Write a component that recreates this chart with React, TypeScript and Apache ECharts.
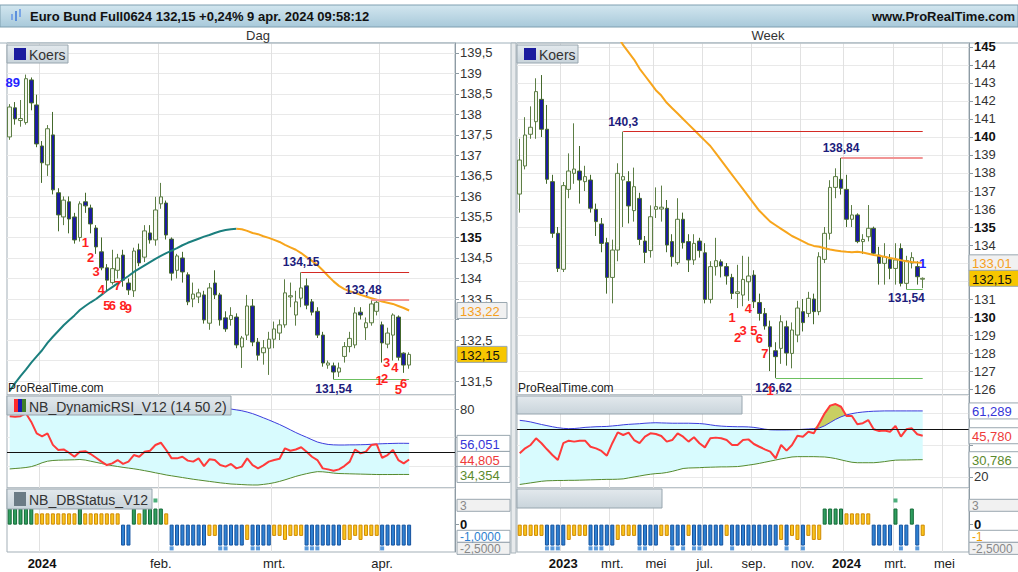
import React, { useEffect, useRef } from 'react';
import * as echarts from 'echarts';

const FONT = '"Liberation Sans", Arial, Helvetica, sans-serif';
const MONTHS = ['jan.', 'feb.', 'mrt.', 'apr.', 'mei', 'jun.', 'jul.', 'aug.', 'sep.', 'okt.', 'nov.', 'dec.'];
const DAY_SLOTS = 83;
const WEEK_SLOTS = 83;
const DAY_START = '2023-12-20';
const WEEK_START = '2022-11-07';
const DAY_HOLIDAYS = ['2023-12-25', '2023-12-26', '2024-01-01', '2024-03-29', '2024-04-01'];

// ---------- daily (Dag) ----------
// [open, close, low, high]
const dayCandles = [
  [137.45, 138.18, 137.38, 138.25], [138.16, 137.89, 137.75, 138.30], [137.85, 137.90, 137.70, 138.35],
  [137.80, 138.87, 137.75, 138.97], [138.84, 138.28, 138.10, 138.90], [138.23, 137.28, 137.20, 138.48],
  [137.23, 136.82, 136.33, 137.35], [136.77, 137.65, 136.50, 137.74], [137.50, 136.16, 136.05, 138.06],
  [136.09, 135.55, 135.15, 136.20], [135.50, 135.91, 135.30, 136.00], [135.87, 135.45, 135.10, 136.00],
  [135.50, 134.94, 134.85, 135.60], [135.00, 135.82, 134.90, 135.88], [135.87, 135.77, 135.60, 136.09],
  [135.72, 135.33, 135.10, 135.80], [135.23, 134.77, 134.60, 135.30], [134.65, 134.26, 134.20, 135.00],
  [134.26, 133.96, 133.70, 134.35], [133.90, 134.24, 133.85, 134.70], [134.20, 134.50, 134.00, 134.60],
  [134.57, 133.96, 133.80, 134.70], [133.89, 133.72, 133.60, 134.00], [133.70, 134.67, 133.55, 134.75],
  [134.70, 134.38, 134.30, 134.85], [134.52, 135.16, 134.40, 135.30], [135.11, 134.94, 134.85, 135.30],
  [134.94, 135.67, 134.80, 135.99], [135.82, 135.99, 135.70, 136.33], [135.84, 135.06, 134.95, 135.90],
  [134.96, 134.13, 133.95, 135.00], [134.20, 134.55, 134.00, 134.60], [134.50, 134.16, 133.90, 134.65],
  [134.09, 133.43, 133.35, 134.15], [133.50, 133.62, 133.30, 133.90], [133.55, 133.65, 133.40, 133.75],
  [133.60, 132.99, 132.90, 133.70], [132.91, 133.77, 132.75, 133.89], [133.89, 133.60, 133.50, 134.20],
  [133.60, 132.99, 132.85, 133.65], [133.04, 132.77, 132.70, 133.20], [133.00, 133.10, 132.85, 133.30],
  [133.06, 132.38, 132.30, 133.15], [132.33, 132.55, 131.82, 132.60], [132.62, 133.33, 132.50, 133.60],
  [133.33, 132.45, 132.35, 133.50], [132.45, 132.13, 132.00, 132.55], [132.19, 132.31, 131.90, 132.50],
  [132.30, 132.52, 131.65, 132.70], [132.52, 132.77, 132.30, 132.95], [132.67, 132.87, 132.50, 133.00],
  [132.87, 133.65, 132.80, 133.98], [133.55, 133.58, 133.30, 133.90], [133.11, 133.43, 132.85, 133.70],
  [133.52, 133.77, 133.30, 134.15], [133.82, 133.35, 133.25, 134.00], [133.43, 133.18, 133.10, 133.50],
  [133.20, 132.62, 132.55, 133.30], [132.62, 131.94, 131.85, 132.70], [131.89, 131.94, 131.80, 132.00],
  [131.87, 131.72, 131.54, 131.95], [131.72, 131.82, 131.60, 131.95], [132.10, 132.34, 131.95, 132.45],
  [132.34, 132.54, 132.20, 132.70], [132.38, 133.16, 132.30, 133.30], [133.18, 133.11, 133.00, 133.30],
  [132.80, 132.92, 132.50, 133.05], [132.92, 133.38, 132.85, 133.48], [133.20, 133.42, 133.10, 133.45],
  [132.87, 132.43, 131.95, 132.95], [132.40, 132.67, 132.30, 132.80], [132.62, 133.11, 132.00, 133.15],
  [133.06, 132.08, 132.00, 133.10], [132.18, 131.89, 131.70, 132.20], [131.89, 132.15, 131.80, 132.20],
];
const dayMa = [
  131.26, 131.45, 131.62, 131.78, 131.95, 132.1, 132.25, 132.43, 132.58, 132.72,
  132.86, 132.98, 133.1, 133.23, 133.33, 133.42, 133.5, 133.6, 133.7, 133.79,
  133.88, 133.97, 134.06, 134.16, 134.24, 134.32, 134.4, 134.48, 134.55, 134.62,
  134.68, 134.74, 134.81, 134.87, 134.92, 134.97, 135.02, 135.06, 135.11, 135.15,
  135.18, 135.2, 135.21, 135.2, 135.16, 135.11, 135.08, 135.03, 134.99, 134.94,
  134.89, 134.82, 134.76, 134.7, 134.62, 134.52, 134.43, 134.33, 134.2, 134.06,
  133.93, 133.82, 133.74, 133.69, 133.65, 133.6, 133.56, 133.52, 133.48, 133.44,
  133.41, 133.38, 133.33, 133.28, 133.22,
];
const DAY_MA_TURN = 42;
const dayRsi = [
  75, 74.6, 75, 77, 71, 63, 61, 63, 55, 51.4, 51.8, 49.5, 46.7, 50.2, 50.6, 48.6, 46, 43.3, 40.9, 42.1,
  44.4, 41.7, 43.3, 47.9, 46.7, 50.2, 50.9, 54.9, 56.5, 51.4, 45.6, 45.6, 46.7, 44, 43.3, 45.6, 40.2, 44.9, 44.4, 40.9,
  39.8, 41.7, 38.6, 39.8, 45.6, 40.9, 38.6, 40.7, 43.3, 44.4, 45.3, 52.6, 50.9, 51.8, 53.3, 50.2, 46.7, 44.4, 38.6, 37.9,
  37, 37.9, 40.2, 43.3, 51.8, 49.1, 50.2, 54.9, 55.4, 46, 47.9, 51.4, 44.4, 42.1, 44.8,
];
const dayUpper = [
  84.0, 83.9, 83.8, 83.7, 83.6, 83.5, 83.4, 83.3, 83.2, 83.1, 83.0, 82.9, 82.8, 82.7, 82.6, 82.5, 82.4, 82.3, 82.2, 82.1,
  82.0, 81.9, 81.8, 81.7, 81.6, 81.5, 81.4, 81.3, 81.2, 81.1, 81.0, 81.0, 81.0, 81.0, 80.9, 80.9, 80.8, 80.8, 80.7, 80.6,
  80.4, 80.0, 79.4, 78.8, 77.9, 76.8, 75.4, 73.9, 72.4, 70.8, 69.2, 67.4, 65.5, 63.6, 61.9, 60.3, 58.6, 57.0, 56.0, 55.3,
  55.0, 54.9, 54.9, 55.0, 55.0, 55.1, 55.2, 55.4, 55.6, 55.8, 55.9, 56.0, 56.1, 56.1, 56.05,
];
const dayLower = [
  38.2, 38.5, 38.8, 39.2, 39.8, 41, 42.5, 43.6, 44.1, 44.3, 44.4, 44.5, 44.6, 44.8, 44.4, 43.6, 42.8, 42, 41.2, 40.5,
  39.9, 39.3, 38.8, 38.3, 37.7, 37, 36.3, 35.5, 34.8, 34, 33.4, 32.8, 32.2, 31.6, 31, 30.5, 30, 29.5, 29, 28.5,
  28.1, 27.7, 27.5, 27.3, 27.1, 27, 27, 27.4, 27.9, 28.6, 29.5, 30.6, 31.8, 33, 34, 34.9, 35.7, 36.3, 36.2, 35.8,
  35.3, 35, 34.9, 34.8, 34.7, 34.6, 34.5, 34.4, 34.3, 34.3, 34.3, 34.3, 34.35, 34.35, 34.35,
];
const dayStatus = [
  2, 2, 2, 2, 2, 1.4, 1.4, 1.4, 1.4, 1.4, 1.4, 1.4, 1.4, 2, 1.4, 1.4, 1.4, 1.4, 1.4, 1.4,
  1.4, -2.6, -2.6, 2, 1.4, 2, 2, 2, 2, 1.4, -2.6, -2.6, -2.6, -2.6, -2.6, -2.6, -2.6, -1.4, -1.4, -2.6,
  -2.6, -2.6, -2.6, -2.6, -1.9, -2.6, -2.6, -2.6, -2.6, -1.4, -1.4, -1.9, -1.4, -1.4, -1.4, -2.6, -2.6, -2.6, -2.6, -2.6,
  -2.6, -2.6, -1.9, -1.9, -1.4, -1.9, -1.4, -1.4, -1.4, -2.6, -2.6, -2.6, -2.6, -2.6, -2.6,
];
const dayMarkUp = [27];
const dayMarkDown = [30, 39, 40, 45, 46, 55, 56, 57, 69];
// [index, value, text, pixel nudge x, pixel nudge y]
const dayValueLabels: [number, number, string, number, number][] = [
  [54, 134.15, '134,15', 0, -10], [67, 133.48, '133,48', -8, -10], [60, 131.54, '131,54', 0, 10],
];
const dayLevels: [number, number, number, string][] = [
  [54, 74, 134.15, 'high'], [67, 74, 133.48, 'high2'], [60, 74, 131.54, 'low'],
];
const dayCounts: [number, number, string, number][] = [
  [14, 134.87, '1', 0], [15, 134.52, '2', 0], [16, 134.16, '3', 0], [17, 133.72, '4', 0], [18, 133.33, '5', 0],
  [19, 133.33, '6', 0], [20, 133.84, '7', 0], [21, 133.35, '8', 0], [22, 133.28, '9', 0],
  [69, 131.52, '1', -3], [70, 131.57, '2', -3], [70, 131.96, '3', -1], [71, 131.82, '4', 2], [72, 131.30, '5', 0], [73, 131.43, '6', 0],
];
const dayBlueCounts: [number, number, string, number][] = [[0, 138.77, '89', 3]];

// ---------- weekly (Week) ----------
const weekCandles = [
  [136.83, 138.72, 135.80, 139.90], [138.39, 140.11, 138.20, 141.10], [140.15, 140.54, 139.90, 141.70],
  [140.85, 142.52, 139.90, 143.26], [142.09, 140.43, 140.00, 143.44], [140.43, 137.65, 137.40, 141.78],
  [137.52, 134.65, 134.40, 137.90], [134.65, 132.70, 132.50, 135.00], [132.65, 137.30, 132.50, 137.50],
  [137.09, 138.11, 136.60, 139.09], [137.98, 138.22, 137.40, 140.76], [138.11, 137.61, 136.30, 139.50],
  [137.52, 137.80, 137.00, 138.40], [137.61, 136.04, 135.80, 137.90], [135.98, 135.30, 134.50, 136.30],
  [135.17, 134.09, 133.60, 135.50], [134.13, 132.20, 131.30, 134.40], [132.20, 133.72, 130.76, 134.30],
  [133.72, 137.98, 133.10, 138.54], [137.61, 137.80, 135.00, 140.30], [137.52, 136.17, 135.20, 138.10],
  [135.91, 137.24, 135.30, 138.30], [136.59, 134.31, 134.00, 136.90], [134.22, 133.59, 133.00, 134.50],
  [133.69, 135.57, 133.30, 136.20], [135.98, 136.13, 135.50, 137.20], [136.00, 136.10, 135.30, 137.30],
  [136.04, 134.00, 133.60, 136.50], [134.19, 133.35, 132.80, 134.60], [133.02, 135.43, 132.90, 136.60],
  [135.43, 134.13, 133.80, 135.80], [134.19, 133.17, 132.50, 134.60], [133.17, 134.09, 132.90, 134.60],
  [134.22, 133.69, 133.30, 134.40], [133.57, 130.98, 130.76, 134.10], [130.98, 132.80, 130.76, 133.10],
  [132.80, 133.13, 132.30, 134.40], [133.07, 132.83, 132.20, 133.20], [132.80, 132.28, 131.80, 133.00],
  [132.20, 131.31, 131.00, 132.40], [131.31, 131.40, 130.50, 132.90], [131.22, 132.09, 130.60, 133.40],
  [131.96, 132.28, 130.90, 133.35], [132.33, 130.85, 130.50, 132.60], [130.81, 130.20, 129.80, 131.30],
  [130.20, 129.50, 129.30, 130.50], [129.46, 128.35, 127.00, 129.80], [128.13, 127.80, 126.62, 128.60],
  [128.26, 129.74, 127.40, 130.10], [129.46, 128.00, 127.30, 129.80], [127.98, 129.28, 127.15, 129.70],
  [129.00, 130.50, 128.60, 130.90], [130.30, 129.69, 129.20, 131.00], [130.20, 131.04, 130.00, 131.40],
  [131.00, 130.30, 129.60, 131.30], [130.30, 133.35, 130.10, 133.60], [133.20, 134.65, 133.00, 135.00],
  [134.65, 137.20, 134.30, 137.60], [137.20, 137.80, 136.60, 138.26], [137.65, 137.15, 136.80, 138.84],
  [137.09, 135.43, 135.00, 137.90], [135.43, 135.67, 135.00, 136.22], [135.67, 134.19, 134.10, 135.76],
  [134.19, 134.31, 133.50, 134.60], [134.46, 134.93, 134.20, 136.22], [134.93, 133.54, 133.40, 135.02],
  [133.44, 132.98, 131.80, 133.90], [132.98, 133.35, 131.80, 134.10], [133.20, 132.70, 132.10, 133.50],
  [132.70, 133.17, 131.80, 134.10], [133.81, 131.87, 131.70, 134.09], [131.87, 133.13, 131.54, 133.40],
  [133.00, 133.30, 132.70, 133.60], [132.80, 132.24, 131.80, 133.10], [132.10, 132.15, 131.60, 132.20],
];
const weekMa = [
  null, null, null, null, null, null, null, null, null, null, null, null, null, null, null, null, null, null,
  145.6, 145.1, 144.7, 144.3, 143.8, 143.4, 143.0, 142.6, 142.3, 141.9, 141.6, 141.3, 141.0, 140.7, 140.4, 140.1,
  139.8, 139.5, 139.1, 138.7, 138.3, 137.9, 137.5, 137.1, 136.7, 136.3, 135.9, 135.6, 135.3, 135.1, 134.9, 134.7,
  134.5, 134.35, 134.2, 134.05, 133.95, 133.9, 133.82, 133.75, 133.7, 133.65, 133.62, 133.6, 133.62, 133.58, 133.52,
  133.45, 133.4, 133.35, 133.28, 133.22, 133.15, 133.1, 133.06, 133.03, 133.01,
];
const weekRsi = [
  34.8, 37.9, 40, 44.2, 41.1, 37.3, 33.75, 30.6, 41.1, 42.7, 42.1, 42.7, 42.7, 38.9, 37.9, 36.3, 33.3, 41.1, 47.9, 46.25,
  47.7, 43.1, 41.1, 45.2, 47.3, 46.9, 45.6, 42.1, 43.1, 47.3, 45.2, 42.1, 44.8, 41.1, 38.5, 44.2, 44.6, 44.2, 43.1, 40,
  40, 43.1, 43.5, 40.6, 38.9, 37.3, 35.8, 31.7, 40, 36.5, 40, 45.8, 45.2, 48.3, 47.3, 53.6, 59.8, 64.6, 65.6, 63.9,
  58.1, 58.1, 53, 53.6, 55.6, 49.8, 48.7, 49, 48.3, 51.9, 45.2, 49.8, 50.4, 46.7, 45.8,
];
const weekUpper = [
  55.4, 55.0, 54.4, 53.6, 52.8, 52.1, 51.4, 50.8, 50.4, 50.2, 50.3, 50.6, 51.0, 51.2, 51.4, 51.5, 51.6, 51.9, 52.2, 52.6,
  52.9, 53.1, 53.3, 53.6, 53.8, 53.9, 53.8, 53.7, 53.6, 53.6, 53.6, 53.6, 53.5, 53.4, 53.1, 52.6, 52.1, 51.8, 51.6, 51.5,
  51.4, 51.4, 51.3, 51.0, 50.5, 49.9, 49.5, 49.4, 49.4, 49.4, 49.5, 49.6, 49.8, 50.0, 50.2, 50.6, 52.0, 54.0, 56.0, 57.6,
  58.8, 59.6, 60.2, 60.6, 60.9, 61.1, 61.2, 61.3, 61.3, 61.3, 61.3, 61.3, 61.3, 61.3, 61.29,
];
const weekLower = [
  15.3, 15.8, 16.3, 16.8, 17.3, 17.6, 17.7, 17.8, 17.8, 17.9, 17.9, 18.0, 18.1, 18.2, 18.3, 18.4, 18.5, 18.5, 18.6, 18.8,
  19.4, 20.0, 20.6, 21.2, 21.7, 22.1, 22.3, 22.8, 23.5, 24.4, 25.3, 25.6, 25.7, 25.8, 26.0, 26.1, 26.2, 26.3, 26.3, 26.4,
  26.5, 26.9, 27.4, 27.9, 28.5, 29.2, 29.9, 30.6, 31.3, 31.9, 32.5, 32.7, 32.7, 32.7, 32.7, 32.6, 32.5, 32.1, 31.5, 30.7,
  29.9, 29.2, 28.9, 28.9, 28.9, 28.9, 29.2, 29.6, 30.1, 30.5, 30.6, 30.6, 30.7, 30.8, 30.8,
];
const weekStatus = [
  -1.4, -1.4, -1.4, -1.4, -1.4, -2.6, -2.6, -2.6, -2.6, -1.9, -1.4, -1.4, -1.4, -2.6, -2.6, -2.6, -2.6, -2.6, -1.9, -1.4,
  -1.4, -1.4, -2.6, -2.6, -2.6, -2.6, -1.4, -1.4, -2.6, -2.6, -2.6, -1.4, -2.6, -2.6, -2.6, -2.6, -2.6, -2.6, -1.4, -2.6,
  -2.6, -2.6, -2.6, -2.6, -2.6, -2.6, -2.6, -2.6, -1.9, -2.6, -1.4, -1.9, -2.6, -1.4, -1.9, -1.9, 2, 2, 2, 2,
  1.4, 1.4, 1.4, 1.4, 1.4, -2.6, -2.6, -2.6, -2.6, 2, -2.6, -2.6, 2, -2.6, -1.4,
];
const weekMarkUp = [69];
const weekMarkDown = [5, 6, 7, 13, 14, 15, 22, 23, 28, 30, 32, 33, 39, 49, 52, 70, 73];
const weekValueLabels: [number, number, string, number, number][] = [
  [19, 140.3, '140,3', 0, -10], [59, 138.84, '138,84', 0, -10], [47, 126.62, '126,62', -2, 10], [71, 131.54, '131,54', 0, 9],
];
const weekLevels: [number, number, number, string][] = [
  [19, 74, 140.3, 'high'], [59, 74, 138.84, 'high2'], [47, 74, 126.62, 'low'], [71, 74, 131.54, 'low'],
];
const weekCounts: [number, number, string, number][] = [
  [39, 130.0, '1', 0], [40, 128.89, '2', 0], [41, 129.28, '3', 0], [42, 130.5, '4', 0], [43, 129.28, '5', 0],
  [44, 128.83, '6', 0], [45, 128.0, '7', 0], [46, 125.94, '1', 0],
];
const weekBlueCounts: [number, number, string, number][] = [[74, 133.0, '1', 0]];

// axis boxes on the right side: [value, text, text colour, fill]
const dayPriceBoxes: [number, string, string, string][] = [[133.22, '133,22', '#f5a01e', '#f1f1f1'], [132.15, '132,15', '#111', '#f7c600']];
const weekPriceBoxes: [number, string, string, string][] = [[133.01, '133,01', '#f5a01e', '#f1f1f1'], [132.15, '132,15', '#111', '#f7c600']];
const dayRsiBoxes: [number, string, string, string][] = [[56.051, '56,051', '#3535d8', '#fff'], [44.805, '44,805', '#ee3a3a', '#fff'], [34.354, '34,354', '#5b8a2c', '#fff']];
const weekRsiBoxes: [number, string, string, string][] = [[61.289, '61,289', '#3535d8', '#fff'], [45.78, '45,780', '#ee3a3a', '#fff'], [30.786, '30,786', '#5b8a2c', '#fff']];
const dayStatusBoxes: [number, string, string, string][] = [[2.4, '3', '#888', '#f1f1f1'], [-1.45, '-1,0000', '#2d7fd0', '#fff'], [-2.95, '-2,5000', '#888', '#f1f1f1']];
const weekStatusBoxes: [number, string, string, string][] = [[2.4, '3', '#888', '#f1f1f1'], [-1.45, '-1', '#f0a000', '#fff'], [-2.95, '-2,5000', '#888', '#f1f1f1']];

// ---------- helpers ----------
function tradingDays(start: string, count: number, holidays: string[]) {
  const out: string[] = [];
  const d = new Date(start + 'T00:00:00Z');
  while (out.length < count) {
    const s = d.toISOString().slice(0, 10);
    const dow = d.getUTCDay();
    if (dow !== 0 && dow !== 6 && holidays.indexOf(s) < 0) out.push(s);
    d.setUTCDate(d.getUTCDate() + 1);
  }
  return out;
}
function weekDates(start: string, count: number) {
  const out: string[] = [];
  const d = new Date(start + 'T00:00:00Z');
  for (let i = 0; i < count; i++) {
    out.push(d.toISOString().slice(0, 10));
    d.setUTCDate(d.getUTCDate() + 7);
  }
  return out;
}
const dayCats = tradingDays(DAY_START, DAY_SLOTS, DAY_HOLIDAYS);
const weekCats = weekDates(WEEK_START, WEEK_SLOTS);

const monthStart = (cats: string[], everyOther: boolean) => (i: number) => {
  if (i <= 0 || i >= cats.length) return false;
  const m = +cats[i].slice(5, 7);
  const pm = +cats[i - 1].slice(5, 7);
  if (m === pm) return false;
  return everyOther ? m % 2 === 1 : true;
};
const dateLabel = (v: string) => {
  const m = +v.slice(5, 7);
  return m === 1 ? `{y|${v.slice(0, 4)}}` : MONTHS[m - 1];
};
const priceFmt = (v: number) => {
  const r = Math.round(v * 100) / 100;
  const s = String(r).replace('.', ',');
  return Math.abs(r - Math.round(r)) < 1e-6 && Math.round(r) % 5 === 0 ? `{b|${s}}` : s;
};
const intFmt = (v: number) => String(Math.round(v));
// tick labels that sit fully behind a value box are left blank, as in the source
const hideUnder = (base: (v: number) => string, boxes: [number, string, string, string][], min: number, max: number, height: number) => (v: number) => {
  const ppu = height / (max - min);
  for (const b of boxes) if (Math.abs(b[0] - v) * ppu < 10) return '';
  return base(v);
};

const AXIS_GRAY = '#8e9ba4';
const GRID_LINE = '#e9e9e9';
const L = 7, LW = 448, R = 517, RW = 452;
const TOPS = [43, 395, 488];
const HEIGHTS = [352, 93, 64];
const AX = {
  dayPrice: [131.16, 139.74], dayRsi: [24.9, 89.8], weekPrice: [125.67, 145.22], weekRsi: [13.1, 71.25], status: [-3.4, 4.55],
};

function gridsFor() {
  const g: any[] = [];
  [L, R].forEach((left, p) => {
    const width = p === 0 ? LW : RW;
    for (let k = 0; k < 3; k++) {
      g.push({ left, top: TOPS[k], width, height: HEIGHTS[k], show: true, borderColor: '#a3afb7', borderWidth: 1, backgroundColor: '#fff', containLabel: false, outerBoundsMode: 'none' });
    }
  });
  return g;
}

function xAxisFor(gridIndex: number, cats: string[], showLabel: boolean, everyOther: boolean) {
  const fn = monthStart(cats, everyOther);
  return {
    type: 'category', gridIndex, data: cats, boundaryGap: true,
    axisLine: { show: false }, axisTick: { show: false },
    splitLine: { show: true, interval: (i: number) => fn(i), lineStyle: { color: '#e1e1e1' } },
    axisLabel: showLabel
      ? { show: true, interval: (i: number) => fn(i), formatter: dateLabel, color: '#222', fontSize: 13, margin: 5, fontFamily: FONT, rich: { y: { fontWeight: 'bold', fontSize: 13, color: '#111', fontFamily: FONT } } }
      : { show: false },
  };
}

function valueAxis(gridIndex: number, range: number[], step: number, fmt: any) {
  return {
    type: 'value', gridIndex, position: 'right', min: range[0], max: range[1], minInterval: step, maxInterval: step,
    axisLine: { show: true, lineStyle: { color: AXIS_GRAY } },
    axisTick: { show: true, length: 4, lineStyle: { color: AXIS_GRAY } },
    splitLine: { show: true, lineStyle: { color: GRID_LINE } },
    axisLabel: { show: true, showMinLabel: false, showMaxLabel: false, margin: 5, color: '#333', fontSize: 13, fontFamily: FONT, formatter: fmt, rich: { b: { fontWeight: 'bold', fontSize: 13, color: '#111', fontFamily: FONT } } },
  };
}
function statusAxis(gridIndex: number) {
  return {
    type: 'value', gridIndex, position: 'right', min: AX.status[0], max: AX.status[1],
    axisLine: { show: true, lineStyle: { color: AXIS_GRAY } },
    axisTick: { show: true, length: 4, customValues: [0], lineStyle: { color: AXIS_GRAY } },
    splitLine: { show: false },
    axisLabel: { show: true, customValues: [0], margin: 5, formatter: () => '{b|0}', rich: { b: { fontWeight: 'bold', fontSize: 13, color: '#111', fontFamily: FONT } } },
  };
}

const candleStyle = { color: '#f5f8f0', color0: '#1b1b9e', borderColor: '#5d7e45', borderColor0: '#44692c', borderWidth: 1 };
const levelColor: Record<string, any> = {
  high: { color: '#d42a24', width: 1 },
  high2: { color: '#f19595', width: 2 },
  low: { color: '#6cc060', width: 1 },
};

function levelLines(cats: string[], levels: [number, number, number, string][]) {
  return {
    silent: true, symbol: ['none', 'none'], label: { show: false }, animation: false,
    data: levels.map(([a, b, v, kind]) => [
      { coord: [cats[a], v], lineStyle: { ...levelColor[kind], type: 'solid' } },
      { coord: [cats[b], v] },
    ]),
  };
}
function labelPoints(cats: string[], vals: [number, number, string, number, number][], counts: [number, number, string, number][], blue: [number, number, string, number][]) {
  const pt = (i: number, v: number, text: string, color: string, offset: number[], size: number) => ({
    coord: [cats[i], v], symbol: 'rect', symbolSize: 1, itemStyle: { color: 'rgba(0,0,0,0)' },
    label: { show: true, position: 'inside', formatter: text, color, fontWeight: 'bold', fontSize: size, fontFamily: FONT, offset },
  });
  return {
    silent: true, animation: false,
    data: [
      ...vals.map(([i, v, t, dx, dy]) => pt(i, v, t, '#1c1c7c', [dx, dy], 12)),
      ...counts.map(([i, v, t, dx]) => pt(i, v, t, '#ff1f1f', [dx, 0], 13)),
      ...blue.map(([i, v, t, dx]) => pt(i, v, t, '#2424ff', [dx, 0], 13)),
    ],
  };
}

function statusItems(vals: number[]) {
  return vals.map((v) => {
    let style;
    if (v >= 2) style = { color: '#2f9e5f', borderColor: '#136a36', borderWidth: 1 };
    else if (v <= -2.5) style = { color: '#2e80d2', borderColor: '#15539f', borderWidth: 1 };
    else style = { color: '#f8c41d', borderColor: '#d08a00', borderWidth: 1 };
    return { value: v, itemStyle: style };
  });
}

function rsiSeries(xi: number, yi: number, lower: number[], upper: number[], rsi: number[], hump: boolean) {
  const s: any[] = [
    { type: 'line', xAxisIndex: xi, yAxisIndex: yi, data: lower, stack: 'band' + xi, symbol: 'none', lineStyle: { opacity: 0 }, silent: true },
    { type: 'line', xAxisIndex: xi, yAxisIndex: yi, data: upper.map((u, i) => u - lower[i]), stack: 'band' + xi, symbol: 'none', lineStyle: { opacity: 0 }, areaStyle: { color: '#d8fbfe', opacity: 1 }, silent: true },
  ];
  if (hump) {
    s.push(
      { type: 'line', xAxisIndex: xi, yAxisIndex: yi, data: upper, stack: 'hump' + xi, symbol: 'none', lineStyle: { opacity: 0 }, silent: true },
      { type: 'line', xAxisIndex: xi, yAxisIndex: yi, data: rsi.map((r, i) => (r > upper[i] ? r - upper[i] : 0)), stack: 'hump' + xi, symbol: 'none', lineStyle: { opacity: 0 }, areaStyle: { color: '#c9cf62', opacity: 1 }, silent: true },
    );
  }
  s.push(
    { type: 'line', xAxisIndex: xi, yAxisIndex: yi, data: upper, symbol: 'none', lineStyle: { color: '#3c3cdc', width: 1 }, silent: true },
    { type: 'line', xAxisIndex: xi, yAxisIndex: yi, data: lower, symbol: 'none', lineStyle: { color: '#558a2e', width: 1 }, silent: true },
    {
      type: 'line', xAxisIndex: xi, yAxisIndex: yi, data: rsi, symbol: 'none', lineStyle: { color: '#ff3a3a', width: 2 }, silent: true,
      markLine: { silent: true, symbol: ['none', 'none'], label: { show: false }, lineStyle: { color: '#111', width: 1, type: 'solid' }, data: [{ yAxis: 50 }] },
    },
  );
  return s;
}

function statusSeries(xi: number, yi: number, cats: string[], vals: number[], up: number[], down: number[]) {
  return [
    { type: 'bar', xAxisIndex: xi, yAxisIndex: yi, barWidth: 4, data: statusItems(vals), silent: true },
    {
      type: 'scatter', xAxisIndex: xi, yAxisIndex: yi, symbol: 'rect', symbolSize: 4, silent: true,
      data: [
        ...up.map((i) => ({ value: [cats[i], 3.0], itemStyle: { color: '#1f9a5a' } })),
        ...down.map((i) => ({ value: [cats[i], -2.95], itemStyle: { color: '#2e80d2' } })),
      ],
    },
  ];
}

function buildOption() {
  const maUp = dayMa.map((v, i) => (i <= DAY_MA_TURN ? v : null));
  const maDown = dayMa.map((v, i) => (i >= DAY_MA_TURN ? v : null));
  return {
    animation: false,
    textStyle: { fontFamily: FONT },
    grid: gridsFor(),
    xAxis: [
      xAxisFor(0, dayCats, false, false), xAxisFor(1, dayCats, false, false), xAxisFor(2, dayCats, true, false),
      xAxisFor(3, weekCats, false, true), xAxisFor(4, weekCats, false, true), xAxisFor(5, weekCats, true, true),
    ],
    yAxis: [
      valueAxis(0, AX.dayPrice, 0.5, hideUnder(priceFmt, dayPriceBoxes, AX.dayPrice[0], AX.dayPrice[1], HEIGHTS[0])),
      valueAxis(1, AX.dayRsi, 20, hideUnder(intFmt, dayRsiBoxes, AX.dayRsi[0], AX.dayRsi[1], HEIGHTS[1])),
      statusAxis(2),
      valueAxis(3, AX.weekPrice, 1, hideUnder(priceFmt, weekPriceBoxes, AX.weekPrice[0], AX.weekPrice[1], HEIGHTS[0])),
      valueAxis(4, AX.weekRsi, 20, hideUnder(intFmt, weekRsiBoxes, AX.weekRsi[0], AX.weekRsi[1], HEIGHTS[1])),
      statusAxis(5),
    ],
    series: [
      {
        type: 'candlestick', xAxisIndex: 0, yAxisIndex: 0, data: dayCandles, barWidth: 4, itemStyle: candleStyle, silent: true,
        markLine: levelLines(dayCats, dayLevels),
        markPoint: labelPoints(dayCats, dayValueLabels, dayCounts, dayBlueCounts),
      },
      { type: 'line', xAxisIndex: 0, yAxisIndex: 0, data: maUp, symbol: 'none', lineStyle: { color: '#1b7f7e', width: 2 }, silent: true },
      { type: 'line', xAxisIndex: 0, yAxisIndex: 0, data: maDown, symbol: 'none', lineStyle: { color: '#f7a51c', width: 2 }, silent: true },
      ...rsiSeries(1, 1, dayLower, dayUpper, dayRsi, false),
      ...statusSeries(2, 2, dayCats, dayStatus, dayMarkUp, dayMarkDown),
      {
        type: 'candlestick', xAxisIndex: 3, yAxisIndex: 3, data: weekCandles, barWidth: 4, itemStyle: candleStyle, silent: true,
        markLine: levelLines(weekCats, weekLevels),
        markPoint: labelPoints(weekCats, weekValueLabels, weekCounts, weekBlueCounts),
      },
      { type: 'line', xAxisIndex: 3, yAxisIndex: 3, data: weekMa, symbol: 'none', lineStyle: { color: '#f7a51c', width: 2 }, silent: true },
      ...rsiSeries(4, 4, weekLower, weekUpper, weekRsi, true),
      ...statusSeries(5, 5, weekCats, weekStatus, weekMarkUp, weekMarkDown),
    ],
  };
}

function legendBox(x: number, y: number, w: number, h: number, text: string | null, icon: string[] | null) {
  const els: any[] = [
    {
      type: 'rect', z: 100, shape: { x, y, width: w, height: h },
      style: { fill: new echarts.graphic.LinearGradient(0, 0, 0, 1, [{ offset: 0, color: '#e3e9ed' }, { offset: 1, color: '#c9d4db' }]), stroke: '#98a6af', lineWidth: 1 },
    },
  ];
  if (icon) {
    const iw = 12 / icon.length;
    icon.forEach((c, k) => els.push({ type: 'rect', z: 101, shape: { x: x + 7 + k * iw, y: y + 3, width: iw, height: h - 6 }, style: { fill: c } }));
  }
  if (text) {
    els.push({ type: 'text', z: 101, x: x + 22, y: y + h / 2 + 1, style: { text, fill: '#333', font: `14px ${FONT}`, verticalAlign: 'middle' } });
  }
  return els;
}

function buildGraphics(chart: any) {
  const els: any[] = [];
  // title bar
  els.push({
    type: 'rect', shape: { x: 0, y: 5, width: 1018, height: 22 },
    style: { fill: new echarts.graphic.LinearGradient(0, 0, 0, 1, [{ offset: 0, color: '#d2e6ef' }, { offset: 1, color: '#a8c9da' }]), stroke: '#7f9fb0', lineWidth: 1 },
  });
  [[11, 14, 6, '#7aa6e6'], [15, 11, 10, '#5b8fdc'], [19, 9, 8, '#7aa6e6']].forEach(([x, y, h, c]) =>
    els.push({ type: 'rect', shape: { x, y, width: 2, height: h }, style: { fill: c } }));
  els.push({ type: 'text', x: 30, y: 16, style: { text: 'Euro Bund Full0624 132,15 +0,24% 9 apr. 2024 09:58:12', fill: '#111', font: `bold 13px ${FONT}`, verticalAlign: 'middle' } });
  els.push({ type: 'text', x: 1015, y: 16, style: { text: 'www.ProRealTime.com', fill: '#111', font: `bold 13px ${FONT}`, align: 'right', verticalAlign: 'middle' } });
  // header row
  els.push({ type: 'line', shape: { x1: 0, y1: 43, x2: 1018, y2: 43 }, style: { stroke: '#9fb0ba', lineWidth: 1 } });
  els.push({ type: 'text', x: 258, y: 35, style: { text: 'Dag', fill: '#333', font: `13px ${FONT}`, align: 'center', verticalAlign: 'middle' } });
  els.push({ type: 'text', x: 768, y: 35, style: { text: 'Week', fill: '#333', font: `13px ${FONT}`, align: 'center', verticalAlign: 'middle' } });
  // separator between the two charts
  els.push({ type: 'rect', shape: { x: 511, y: 43, width: 5, height: 510 }, style: { fill: '#e7eaec', stroke: '#a9b5bc', lineWidth: 1 } });
  // legends
  els.push(...legendBox(7, 45, 61, 18, 'Koers', ['#1b1b9e']));
  els.push(...legendBox(517, 45, 61, 18, 'Koers', ['#1b1b9e']));
  els.push(...legendBox(7, 396, 224, 19, 'NB_DynamicRSI_V12 (14 50 2)', ['#ff2a2a', '#1b1bb0', '#3f7f2a']));
  els.push(...legendBox(7, 489, 145, 20, 'NB_DBStatus_V12', ['#6b7b85']));
  els.push(...legendBox(517, 396, 225, 18, null, null));
  els.push(...legendBox(517, 489, 145, 19, null, null));
  // watermarks
  els.push({ type: 'text', z: 50, x: 8, y: 388, style: { text: 'ProRealTime.com', fill: '#222', font: `12px ${FONT}`, verticalAlign: 'middle' } });
  els.push({ type: 'text', z: 50, x: 518, y: 388, style: { text: 'ProRealTime.com', fill: '#222', font: `12px ${FONT}`, verticalAlign: 'middle' } });
  // right-axis value boxes
  const boxes = (yAxisIndex: number, x: number, w: number, h: number, size: number, list: [number, string, string, string][]) => {
    list.forEach(([v, t, tc, fill]) => {
      const y = chart.convertToPixel({ yAxisIndex }, v);
      els.push({ type: 'rect', z: 120, shape: { x, y: y - h / 2, width: w, height: h }, style: { fill, stroke: '#9aa7b0', lineWidth: 1 } });
      els.push({ type: 'text', z: 121, x: x + 3, y: y + 1, style: { text: t, fill: tc, font: `${size}px ${FONT}`, verticalAlign: 'middle' } });
    });
  };
  boxes(0, 457, 50, 16, 13, dayPriceBoxes);
  boxes(1, 457, 53, 16, 13, dayRsiBoxes);
  boxes(2, 457, 53, 12, 12, dayStatusBoxes);
  boxes(3, 969, 52, 16, 13, weekPriceBoxes);
  boxes(4, 969, 52, 16, 13, weekRsiBoxes);
  boxes(5, 969, 52, 12, 12, weekStatusBoxes);
  return els;
}

export default function App() {
  const ref = useRef<HTMLDivElement>(null);
  useEffect(() => {
    document.body.style.margin = '0';
    if (!ref.current) return;
    const chart = echarts.init(ref.current, null, { renderer: 'svg' });
    chart.setOption(buildOption() as any);
    chart.setOption({ graphic: { elements: buildGraphics(chart) } } as any);
    return () => chart.dispose();
  }, []);
  return <div ref={ref} style={{ width: 1018, height: 572, background: '#fff' }} />;
}
